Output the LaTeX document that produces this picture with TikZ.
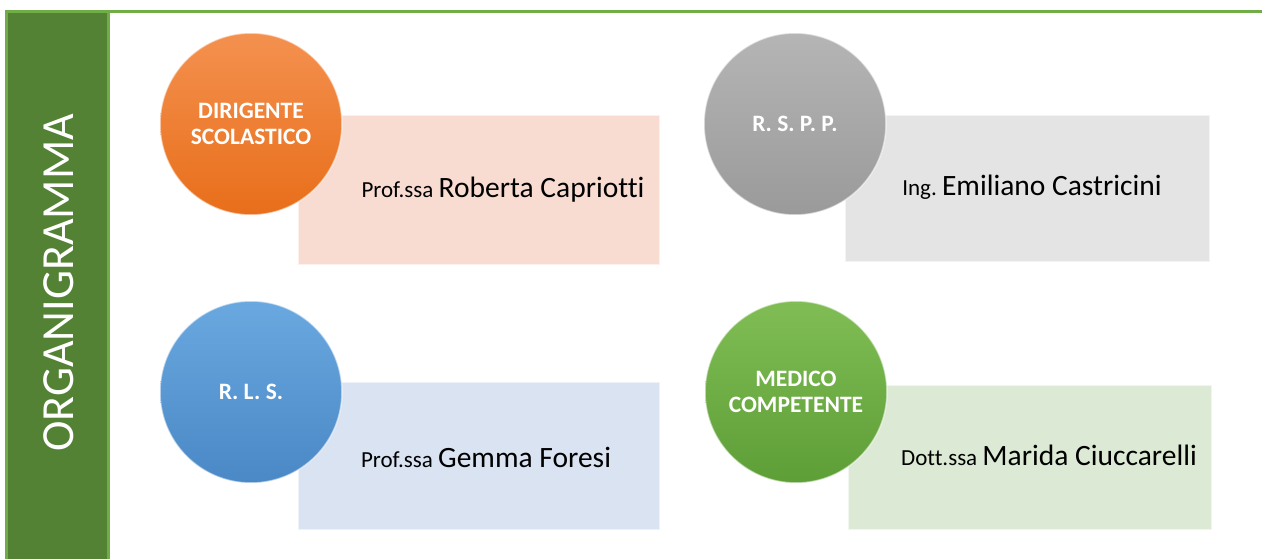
\documentclass[tikz,border=0pt]{standalone}
\usepackage{fontspec}
\setmainfont{Carlito}[Ligatures=NoCommon]
\definecolor{framegreen}{HTML}{70AD47}
\definecolor{bargreen}{HTML}{548235}
\definecolor{orangeA}{HTML}{F4914F}
\definecolor{orangeB}{HTML}{E86E1A}
\definecolor{greyA}{HTML}{B5B5B5}
\definecolor{greyB}{HTML}{9A9A9A}
\definecolor{blueA}{HTML}{6AA8E0}
\definecolor{blueB}{HTML}{4A88C6}
\definecolor{greenA}{HTML}{80BD55}
\definecolor{greenB}{HTML}{5E9E36}
\definecolor{pinkbox}{HTML}{F8DCD2}
\definecolor{greybox}{HTML}{E4E4E4}
\definecolor{bluebox}{HTML}{D9E3F2}
\definecolor{greenbox}{HTML}{DCE9D5}
\tikzset{
  rolecircle/.style={circle, minimum size=182pt, inner sep=0pt, draw=white, draw opacity=0.55, line width=1.5pt,
    text=white, align=center, font=\fontsize{23.5}{26}\selectfont\bfseries},
  namebox/.style={draw=white, draw opacity=0.6, line width=2pt},
  namelabel/.style={anchor=base, inner sep=0pt, text=black, font=\fontsize{29.5}{33}\selectfont},
}
\newcommand{\smallpart}[1]{{\fontsize{23}{27}\selectfont #1\ }}
\begin{document}
\begin{tikzpicture}[x=1pt,y=-1pt]
\useasboundingbox (0,0) rectangle (1262,559);
% frame
\draw[framegreen, line width=3pt] (5,11.5) -- (1262,11.5);
\fill[bargreen] (6.5,11.5) rectangle (108.5,565);
\draw[framegreen, line width=3pt] (6.5,565) -- (6.5,11.5) -- (108.5,11.5) -- (108.5,565);
\node[rotate=90, text=white, font=\fontsize{46}{50}\selectfont, inner sep=0pt] (title) at (59,283) {ORGANIGRAMMA};
% boxes
\path[namebox, fill=pinkbox] (298,115) rectangle (660,265);
\path[namebox, fill=greybox] (845,115) rectangle (1210,262);
\path[namebox, fill=bluebox] (298,382) rectangle (660,530);
\path[namebox, fill=greenbox] (848,385) rectangle (1212,530);
% names
\node[namelabel] (n1) at (503,198) {\smallpart{Prof.ssa}Roberta Capriotti};
\node[namelabel] (n2) at (1032,196) {\smallpart{Ing.}Emiliano Castricini};
\node[namelabel] (n3) at (486,467) {\smallpart{Prof.ssa}Gemma Foresi};
\node[namelabel] (n4) at (1049,465) {\smallpart{Dott.ssa}Marida Ciuccarelli};
% circles
\node[rolecircle, top color=orangeA, bottom color=orangeB] (c1) at (251,124) {DIRIGENTE\\SCOLASTICO};
\node[rolecircle, top color=greyA, bottom color=greyB] (c2) at (795,124) {R. S. P. P.};
\node[rolecircle, top color=blueA, bottom color=blueB] (c3) at (251,392) {R. L. S.};
\node[rolecircle, top color=greenA, bottom color=greenB] (c4) at (796,392) {MEDICO\\COMPETENTE};
\end{tikzpicture}
\end{document}
